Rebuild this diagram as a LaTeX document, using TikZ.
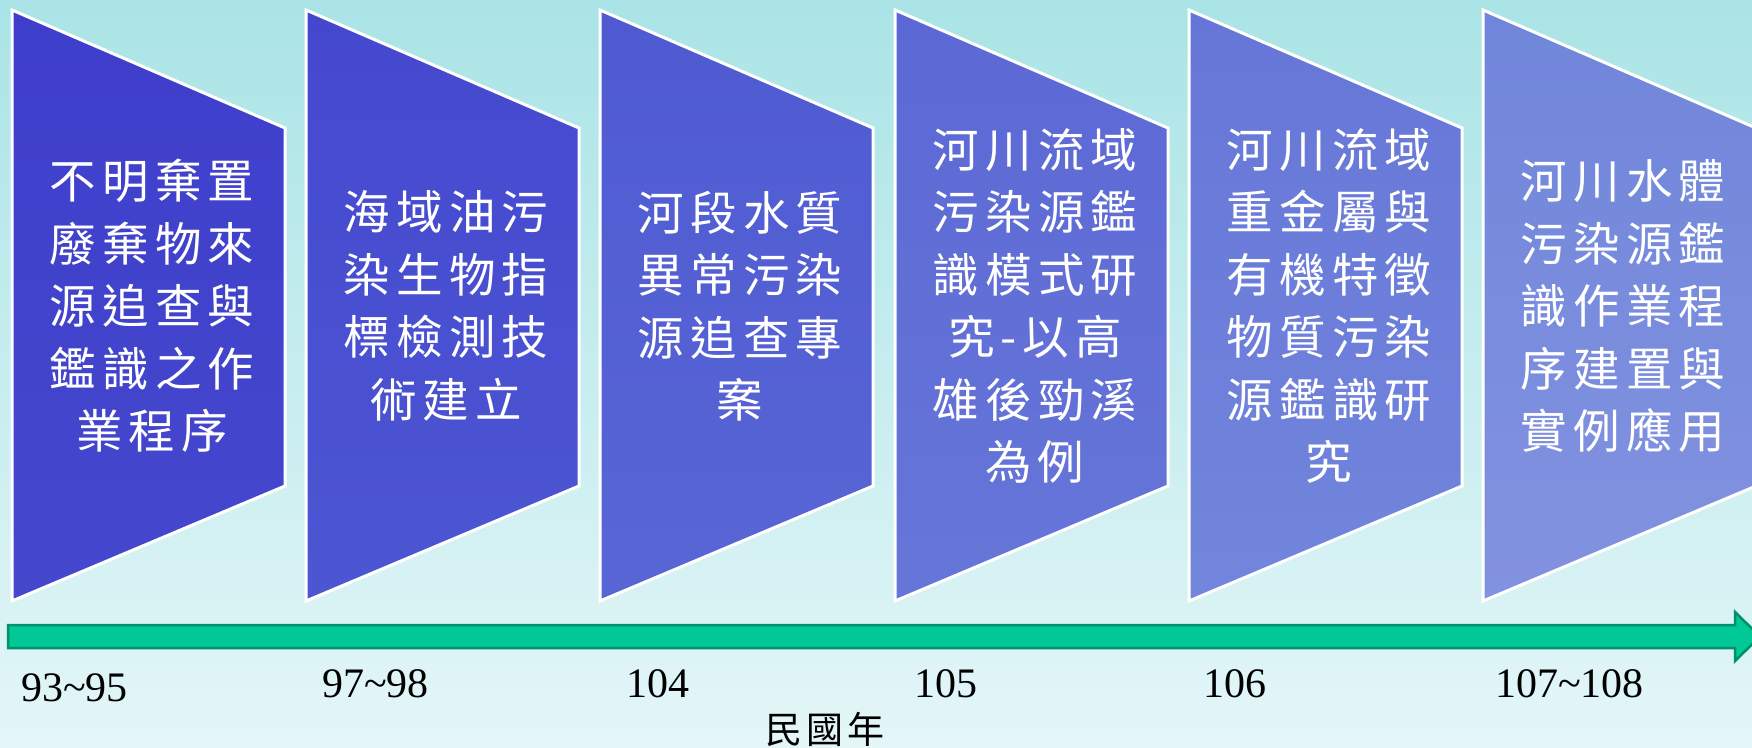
\documentclass[tikz,border=0pt]{standalone}
\usepackage{fontspec}
\setmainfont{Liberation Serif}
\newfontfamily\cjk{Noto Sans CJK TC}[LetterSpace=13]
\newfontfamily\cjkb{Noto Sans CJK TC}[LetterSpace=12]
\definecolor{bgtop}{HTML}{AAE4E6}
\definecolor{bgbot}{HTML}{E4F6F8}
\definecolor{arrfill}{HTML}{00C896}
\definecolor{arrline}{HTML}{00906C}
\definecolor{sa1}{HTML}{3E3ECB}\definecolor{sb1}{HTML}{4548CD}
\definecolor{sa2}{HTML}{4548CF}\definecolor{sb2}{HTML}{4C56D2}
\definecolor{sa3}{HTML}{4F5AD2}\definecolor{sb3}{HTML}{5866D5}
\definecolor{sa4}{HTML}{5C68D5}\definecolor{sb4}{HTML}{6676D8}
\definecolor{sa5}{HTML}{6676D8}\definecolor{sb5}{HTML}{7286DC}
\definecolor{sa6}{HTML}{7086DA}\definecolor{sb6}{HTML}{8292E0}
\tikzset{
  stepshape/.style={draw=white, line width=3pt, line join=miter},
  steptext/.style={text=white, align=center, font=\cjk\fontsize{46.5}{62.5}\selectfont, inner sep=0pt},
  yearlabel/.style={anchor=base west, inner sep=0pt, font=\fontsize{42}{50}\selectfont, text=black},
  timearrow/.style={fill=arrfill, draw=arrline, line width=2.5pt, line join=miter}
}
\newcommand{\trapez}[2]{%
  \shadedraw[stepshape, top color=sa#2, bottom color=sb#2]
    (#1,10) -- (#1+273,128) -- (#1+273,486) -- (#1,601) -- cycle;}
\begin{document}
\begin{tikzpicture}[x=1pt,y=-1pt]
\useasboundingbox (0,0) rectangle (1752,747);
\shade[top color=bgtop, bottom color=bgbot] (0,0) rectangle (1752,747);

\trapez{12}{1}
\trapez{306}{2}
\trapez{600}{3}
\trapez{895}{4}
\trapez{1189}{5}
\trapez{1483}{6}

\node[steptext] (t1) at (152,306) {不明棄置\\廢棄物來\\源追查與\\鑑識之作\\業程序};
\node[steptext] (t2) at (446,306) {海域油污\\染生物指\\標檢測技\\術建立};
\node[steptext] (t3) at (740,306) {河段水質\\異常污染\\源追查專\\案};
\node[steptext] (t4) at (1035,306) {河川流域\\污染源鑑\\識模式研\\究-以高\\雄後勁溪\\為例};
\node[steptext] (t5) at (1329,306) {河川流域\\重金屬與\\有機特徵\\物質污染\\源鑑識研\\究};
\node[steptext] (t6) at (1623,306) {河川水體\\污染源鑑\\識作業程\\序建置與\\實例應用};

\draw[timearrow] (8,625) -- (1735,625) -- (1735,612) -- (1760,636.5) -- (1735,661) -- (1735,648) -- (8,648) -- cycle;

\node[yearlabel] (y1) at (21,701) {93\textasciitilde 95};
\node[yearlabel] (y2) at (322,697) {97\textasciitilde 98};
\node[yearlabel] (y3) at (626,697) {104};
\node[yearlabel] (y4) at (914,697) {105};
\node[yearlabel] (y5) at (1203,697) {106};
\node[yearlabel] (y6) at (1495,697) {107\textasciitilde 108};
\node[inner sep=0pt, font=\cjkb\fontsize{37}{40}\selectfont] (unit) at (825,729) {民國年};
\end{tikzpicture}
\end{document}
